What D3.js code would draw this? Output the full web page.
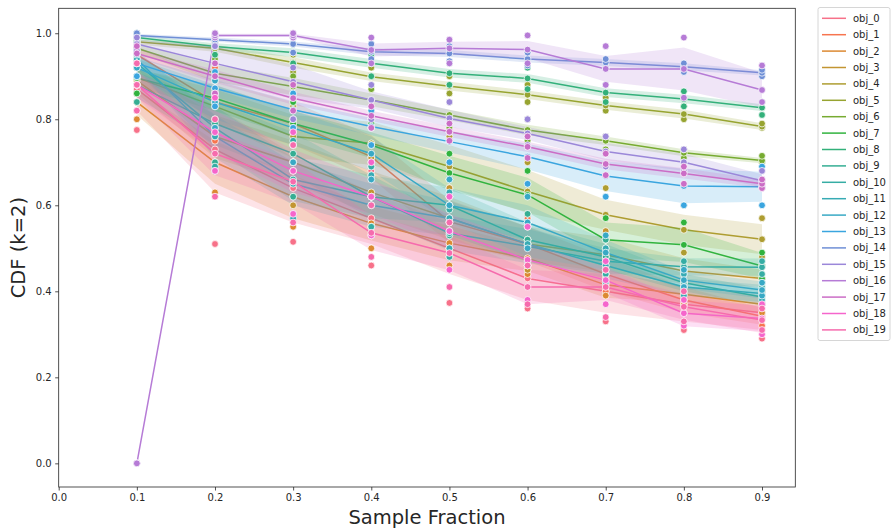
<!DOCTYPE html>
<html><head><meta charset="utf-8">
<script src="https://cdn.jsdelivr.net/npm/d3@7"></script>
<style>body{margin:0;background:#fff} svg{display:block} text{font-family:"DejaVu Sans",sans-serif;fill:#262626}</style>
</head><body>
<svg id="c" width="892" height="529"></svg>
<script>
const xValues = [0.1,0.2,0.3,0.4,0.5,0.6,0.7,0.8,0.9];
const seriesNames = d3.range(20).map(i => "obj_" + i);
const xTicks = [0.0,0.1,0.2,0.3,0.4,0.5,0.6,0.7,0.8,0.9];
const yTicks = [0.0,0.2,0.4,0.6,0.8,1.0];

// mean CDF per series (rows = obj_0 .. obj_19)
const meanValues = [
  [0.87,0.73,0.64,0.57,0.50,0.43,0.40,0.37,0.35],   // obj_0
  [0.95,0.84,0.79,0.713,0.562,0.51,0.44,0.38,0.342], // obj_1
  [0.84,0.70,0.62,0.558,0.512,0.477,0.415,0.393,0.37], // obj_2
  [0.89,0.76,0.70,0.63,0.57,0.51,0.485,0.447,0.43], // obj_3
  [0.897,0.83,0.76,0.744,0.69,0.632,0.578,0.543,0.521], // obj_4
  [0.98,0.965,0.932,0.899,0.877,0.857,0.832,0.812,0.783], // obj_5
  [0.965,0.907,0.876,0.845,0.81,0.775,0.75,0.722,0.704], // obj_6
  [0.896,0.849,0.79,0.74,0.675,0.624,0.52,0.508,0.459], // obj_7
  [0.99,0.969,0.955,0.93,0.907,0.895,0.862,0.847,0.827], // obj_8
  [0.88,0.79,0.72,0.62,0.60,0.52,0.48,0.42,0.387], // obj_9
  [0.93,0.78,0.66,0.62,0.535,0.505,0.47,0.457,0.456], // obj_10
  [0.94,0.76,0.65,0.60,0.57,0.51,0.46,0.41,0.395], // obj_11
  [0.92,0.84,0.78,0.72,0.60,0.56,0.49,0.426,0.403], // obj_12
  [0.93,0.872,0.822,0.783,0.748,0.713,0.668,0.645,0.643], // obj_13
  [0.995,0.985,0.975,0.957,0.953,0.94,0.932,0.922,0.908], // obj_14
  [0.975,0.93,0.887,0.845,0.802,0.767,0.725,0.70,0.657], // obj_15
  [0.0,0.995,0.995,0.961,0.965,0.962,0.917,0.917,0.868], // obj_16
  [0.953,0.90,0.849,0.808,0.771,0.736,0.696,0.674,0.65], // obj_17
  [0.88,0.77,0.68,0.62,0.54,0.473,0.426,0.349,0.337], // obj_18
  [0.88,0.72,0.655,0.536,0.489,0.41,0.41,0.364,0.333]  // obj_19
];
// half width of the confidence band
const ciHalf = [
  [0.05,0.10,0.08,0.06,0.06,0.05,0.05,0.04,0.04],
  [0.02,0.05,0.05,0.05,0.05,0.04,0.04,0.03,0.02],
  [0.03,0.05,0.05,0.04,0.04,0.03,0.03,0.02,0.02],
  [0.03,0.05,0.05,0.05,0.05,0.04,0.04,0.03,0.02],
  [0.02,0.04,0.05,0.05,0.05,0.05,0.035,0.035,0.035],
  [0.006,0.008,0.012,0.01,0.01,0.01,0.01,0.01,0.008],
  [0.01,0.02,0.02,0.015,0.012,0.012,0.01,0.008,0.006],
  [0.02,0.03,0.03,0.03,0.04,0.04,0.04,0.04,0.03],
  [0.006,0.008,0.01,0.01,0.01,0.01,0.01,0.01,0.008],
  [0.03,0.05,0.05,0.05,0.04,0.04,0.03,0.02,0.02],
  [0.02,0.05,0.05,0.05,0.04,0.04,0.03,0.02,0.02],
  [0.02,0.05,0.05,0.05,0.04,0.04,0.03,0.02,0.02],
  [0.02,0.04,0.04,0.04,0.04,0.04,0.03,0.02,0.02],
  [0.015,0.02,0.02,0.02,0.025,0.03,0.035,0.04,0.035],
  [0.004,0.005,0.006,0.008,0.008,0.008,0.008,0.008,0.006],
  [0.01,0.04,0.04,0.02,0.02,0.015,0.02,0.02,0.015],
  [0.0,0.004,0.004,0.015,0.015,0.02,0.03,0.05,0.04],
  [0.01,0.015,0.015,0.012,0.012,0.012,0.012,0.012,0.01],
  [0.03,0.05,0.05,0.04,0.04,0.04,0.03,0.03,0.03],
  [0.03,0.05,0.05,0.04,0.04,0.04,0.03,0.03,0.03]
];
// lowest and highest observed runs
const obsLow = [
  [0.775,0.51,0.515,0.46,0.373,0.36,0.33,0.31,0.29],
  [0.92,0.75,0.70,0.62,0.48,0.45,0.40,0.35,0.32],
  [0.80,0.63,0.55,0.50,0.46,0.44,0.39,0.37,0.35],
  [0.84,0.68,0.60,0.55,0.50,0.45,0.43,0.41,0.40],
  [0.86,0.77,0.68,0.67,0.60,0.55,0.52,0.49,0.48],
  [0.97,0.95,0.91,0.88,0.86,0.84,0.82,0.80,0.78],
  [0.94,0.87,0.84,0.82,0.78,0.75,0.73,0.71,0.70],
  [0.86,0.80,0.74,0.69,0.62,0.56,0.47,0.46,0.43],
  [0.98,0.95,0.93,0.90,0.88,0.87,0.84,0.83,0.81],
  [0.84,0.70,0.62,0.55,0.53,0.47,0.44,0.40,0.37],
  [0.90,0.69,0.58,0.55,0.48,0.46,0.44,0.44,0.44],
  [0.90,0.68,0.57,0.53,0.50,0.46,0.42,0.39,0.38],
  [0.88,0.78,0.70,0.66,0.54,0.50,0.45,0.41,0.39],
  [0.90,0.83,0.78,0.74,0.70,0.65,0.62,0.60,0.60],
  [0.99,0.975,0.955,0.94,0.935,0.925,0.92,0.91,0.90],
  [0.96,0.86,0.80,0.80,0.77,0.74,0.69,0.68,0.64],
  [0.0,0.99,0.99,0.93,0.93,0.93,0.88,0.85,0.84],
  [0.93,0.86,0.82,0.78,0.75,0.71,0.67,0.65,0.64],
  [0.82,0.68,0.58,0.53,0.45,0.38,0.37,0.32,0.30],
  [0.82,0.62,0.56,0.48,0.41,0.37,0.34,0.33,0.31]
];
const obsHigh = [
  [0.93,0.86,0.77,0.68,0.62,0.52,0.48,0.42,0.40],
  [0.98,0.92,0.86,0.80,0.64,0.57,0.48,0.42,0.37],
  [0.88,0.78,0.70,0.62,0.56,0.52,0.46,0.42,0.40],
  [0.94,0.84,0.80,0.71,0.64,0.58,0.54,0.49,0.46],
  [0.93,0.89,0.83,0.80,0.76,0.70,0.64,0.60,0.57],
  [0.99,0.98,0.95,0.92,0.90,0.88,0.85,0.83,0.79],
  [0.985,0.94,0.90,0.87,0.84,0.80,0.76,0.73,0.715],
  [0.93,0.89,0.84,0.79,0.72,0.68,0.57,0.56,0.49],
  [1.0,0.985,0.975,0.95,0.93,0.92,0.88,0.865,0.84],
  [0.92,0.86,0.80,0.70,0.66,0.58,0.52,0.45,0.41],
  [0.96,0.86,0.75,0.69,0.59,0.56,0.50,0.47,0.47],
  [0.97,0.84,0.74,0.67,0.63,0.56,0.50,0.44,0.42],
  [0.95,0.89,0.85,0.78,0.66,0.62,0.53,0.45,0.42],
  [0.96,0.91,0.86,0.82,0.79,0.76,0.72,0.70,0.69],
  [1.0,0.995,0.99,0.975,0.97,0.955,0.94,0.93,0.915],
  [0.99,0.97,0.92,0.88,0.84,0.80,0.76,0.73,0.68],
  [0.0,1.0,1.0,0.99,0.985,0.995,0.97,0.99,0.925],
  [0.97,0.93,0.88,0.83,0.79,0.76,0.72,0.69,0.66],
  [0.93,0.85,0.77,0.70,0.62,0.55,0.47,0.38,0.37],
  [0.93,0.80,0.74,0.60,0.56,0.46,0.45,0.40,0.36]
];
// colours for the blue-purple entries
const colorOverrides = {14: "#6f8fd6", 15: "#9b87d9", 16: "#b67bd6", 17: "#cb6dc6"};

// ---- seaborn husl palette ----
const M = [[3.2406,-1.5372,-0.4986],[-0.9689,1.8758,0.0415],[0.0557,-0.2040,1.0570]];
function maxChroma(L, H) {
  const hr = H * Math.PI / 180, sinH = Math.sin(hr), cosH = Math.cos(hr);
  const sub1 = Math.pow(L + 16, 3) / 1560896.0;
  const sub2 = sub1 > 0.008856 ? sub1 : L / 903.3;
  let res = Infinity;
  for (const [m1, m2, m3] of M) {
    const tp = (0.99915 * m1 + 1.05122 * m2 + 1.14460 * m3) * sub2;
    const rb = 0.86330 * m3 - 0.17266 * m2;
    const lb = 0.12949 * m3 - 0.38848 * m1;
    const bt = (rb * sinH + lb * cosH) * sub2;
    for (const t of [0, 1]) {
      const C = L * (tp - 1.05122 * t) / (bt + 0.17266 * sinH * t);
      if (C > 0 && C < res) res = C;
    }
  }
  return res;
}
function huslToRgb(H, S, L) {
  const C = maxChroma(L, H) / 100 * S;
  const hr = H * Math.PI / 180;
  const U = Math.cos(hr) * C, V = Math.sin(hr) * C;
  const t = (L + 16) / 116;
  const varY = Math.pow(t, 3) > 0.008856 ? Math.pow(t, 3) : (116 * t - 16) / 903.3;
  const varU = U / (13 * L) + 0.19784, varV = V / (13 * L) + 0.46834;
  const Y = varY;
  const X = -(9 * Y * varU) / ((varU - 4) * varV - varU * varV);
  const Z = (9 * Y - 15 * varV * Y - varV * X) / (3 * varV);
  return M.map(r => {
    const c = r[0] * X + r[1] * Y + r[2] * Z;
    const v = c <= 0.0031308 ? 12.92 * c : 1.055 * Math.pow(c, 1 / 2.4) - 0.055;
    return Math.round(Math.max(0, Math.min(1, v)) * 255);
  });
}
const palette = d3.range(20).map(i => {
  if (colorOverrides[i]) return colorOverrides[i];
  const h = ((i / 20 + 0.01) % 1) * 359;
  const [r, g, b] = huslToRgb(h, 0.9 * 99, 0.65 * 99);
  return d3.rgb(r, g, b).formatHex();
});

// ---- layout ----
const svg = d3.select("#c");
const pL = 58.7, pR = 795.3, pT = 8.3, pB = 487;
const x = d3.scaleLinear().domain([0, 0.9426]).range([pL, pR]);
const y = d3.scaleLinear().domain([-0.055, 1.058]).range([pB, pT]);

const plot = svg.append("g");
seriesNames.forEach((name, s) => {
  const rows = xValues.map((xv, i) => ({x: xv, m: meanValues[s][i], c: ciHalf[s][i]}));
  plot.append("path")
    .attr("d", d3.area().x(d => x(d.x)).y0(d => y(d.m - d.c)).y1(d => y(d.m + d.c))(rows))
    .attr("fill", palette[s]).attr("fill-opacity", 0.2).attr("stroke", "none");
  plot.append("path")
    .attr("d", d3.line().x(d => x(d.x)).y(d => y(d.m))(rows))
    .attr("fill", "none").attr("stroke", palette[s]).attr("stroke-width", 1.5);
});
seriesNames.forEach((name, s) => {
  const pts = [];
  xValues.forEach((xv, i) => {
    pts.push([xv, obsLow[s][i]], [xv, meanValues[s][i]], [xv, obsHigh[s][i]]);
  });
  plot.append("g").selectAll("circle").data(pts).join("circle")
    .attr("cx", d => x(d[0])).attr("cy", d => y(d[1])).attr("r", 3.4)
    .attr("fill", palette[s]).attr("stroke", "#fff").attr("stroke-width", 0.75);
});

// ---- axes ----
const xAxis = svg.append("g").attr("transform", `translate(0,${pB})`)
  .call(d3.axisBottom(x).tickValues(xTicks).tickFormat(d3.format(".1f")).tickSize(3.5).tickPadding(3.5));
const yAxis = svg.append("g").attr("transform", `translate(${pL},0)`)
  .call(d3.axisLeft(y).tickValues(yTicks).tickFormat(d3.format(".1f")).tickSize(3.5).tickPadding(3.5));
[xAxis, yAxis].forEach(a => {
  a.selectAll("text").attr("font-size", 10).attr("font-family", "DejaVu Sans").attr("fill", "#262626");
  a.selectAll("line").attr("stroke", "#262626").attr("stroke-width", 0.8);
  a.select(".domain").remove();
});
svg.append("rect").attr("x", pL).attr("y", pT).attr("width", pR - pL).attr("height", pB - pT)
  .attr("fill", "none").attr("stroke", "#262626").attr("stroke-width", 0.8);

svg.append("text").attr("x", 427).attr("y", 524).attr("text-anchor", "middle")
  .attr("font-size", 19.5).text("Sample Fraction");
svg.append("text").attr("transform", `translate(25,${(pT + pB) / 2}) rotate(-90)`)
  .attr("text-anchor", "middle").attr("font-size", 19.5).text("CDF (k=2)");

// ---- legend ----
const lg = svg.append("g");
lg.append("rect").attr("x", 818).attr("y", 7.5).attr("width", 72).attr("height", 333).attr("rx", 2)
  .attr("fill", "#fff").attr("fill-opacity", 0.8).attr("stroke", "#cccccc").attr("stroke-width", 0.8);
seriesNames.forEach((name, s) => {
  const yy = 18.3 + s * 16.4;
  lg.append("line").attr("x1", 822).attr("x2", 846).attr("y1", yy).attr("y2", yy)
    .attr("stroke", palette[s]).attr("stroke-width", 1.5);
  lg.append("text").attr("x", 853).attr("y", yy).attr("dy", "0.35em").attr("font-size", 10).text(name);
});
</script>
</body></html>
